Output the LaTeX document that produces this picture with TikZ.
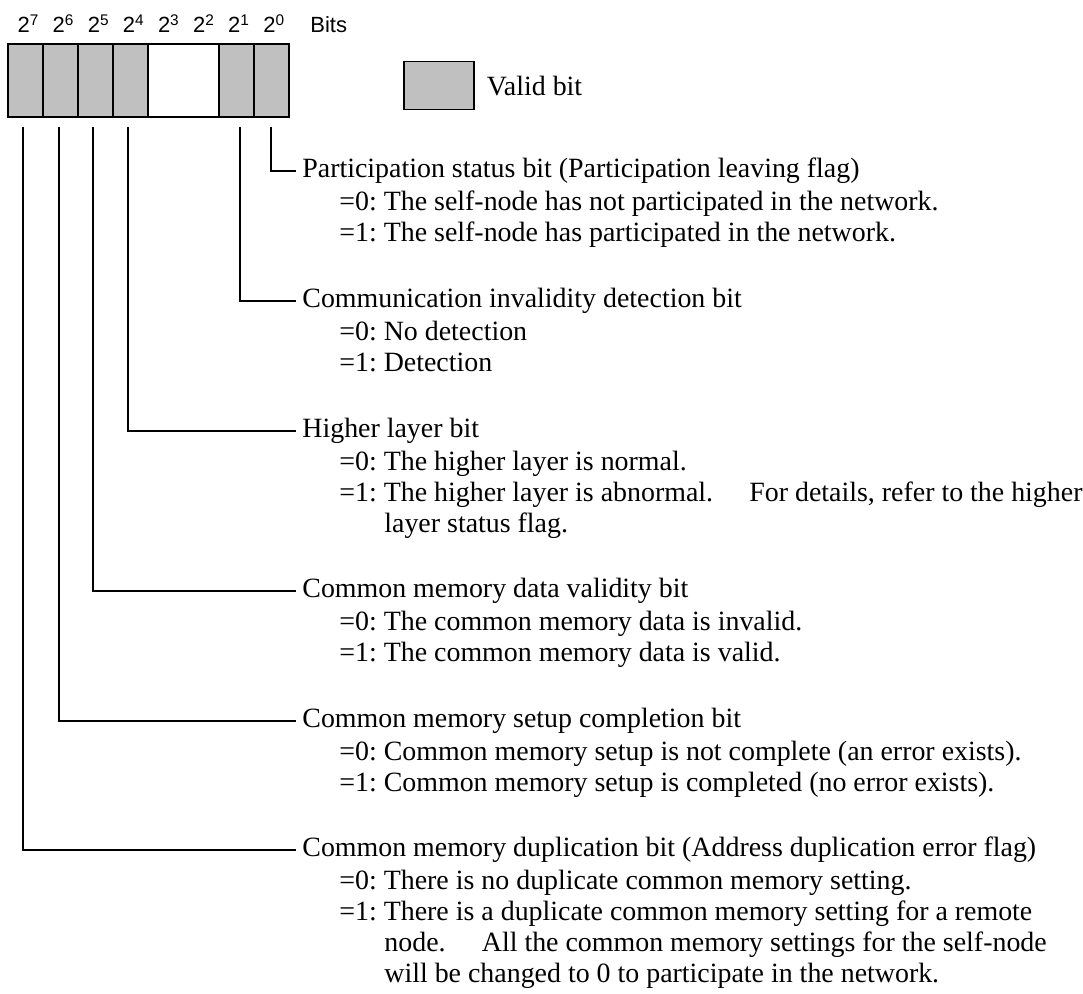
\documentclass[tikz,border=0pt]{standalone}
\usepackage{fontspec}
\setmainfont{Liberation Serif}
\setsansfont{Liberation Sans}
\usepackage{tikz}
\usetikzlibrary{positioning}
\definecolor{bitgray}{HTML}{C0C0C0}
\frenchspacing

\newcommand{\lines}[1]{\begin{tabular}[t]{@{}l@{}}#1\end{tabular}}

\tikzset{
  cell/.style={draw, line width=1pt, fill=bitgray, anchor=north west, inner sep=0pt,
               minimum width=17.55pt, minimum height=36.5pt},
  bitlabel/.style={font=\sffamily\fontsize{11}{13}\selectfont, inner sep=0pt, anchor=base},
  title/.style={font=\fontsize{13.95}{15.4}\selectfont, anchor=west, inner xsep=3pt, inner ysep=0pt},
  detail/.style={font=\fontsize{13.95}{15.4}\selectfont, anchor=base west, inner sep=0pt},
  lead/.style={line width=1pt},
}

\begin{document}
\begin{tikzpicture}[x=0.5pt, y=-0.5pt]
    \useasboundingbox (0,0) rectangle (1083,994);

    \foreach \b in {7,6,5,4,1,0}{
      \pgfmathsetmacro{\xl}{7+35.1*(7-\b)}
      \node[cell] (b\b) at (\xl,43) {};
    }
    \node[cell, fill=white, minimum width=35.1pt] (b32) at (147.4,43) {};

    \foreach \b in {7,6,5,4,3,2,1,0}{
      \pgfmathsetmacro{\xc}{7+35.1*(7-\b)+21.5}
      \node[bitlabel] (p\b) at (\xc,33) {2\textsuperscript{\b}};
    }
    \node[bitlabel, anchor=base west] (bits) at (310,33) {Bits};

    \node[cell, line width=0.75pt, minimum width=35pt, minimum height=24pt] (key) at (403,61) {};
    \node[detail, anchor=west] (keytext) at ([xshift=6pt]key.east) {Valid bit};

    \node[title] (t0) at (296,171) {Participation status bit (Participation leaving flag)};
    \node[detail] (d0) at ([xshift=21.5pt, yshift=-16.5pt]t0.base west)
      {\lines{=0: The self-node has not participated in the network.\\
       =1: The self-node has participated in the network.}};

    \node[title] (t1) at (296,301) {Communication invalidity detection bit};
    \node[detail] (d1) at ([xshift=21.5pt, yshift=-16.5pt]t1.base west)
      {\lines{=0: No detection\\
       =1: Detection}};

    \node[title] (t4) at (296,431) {Higher layer bit};
    \node[detail] (d4) at ([xshift=21.5pt, yshift=-16.5pt]t4.base west)
      {\lines{=0: The higher layer is normal.\\
       =1: The higher layer is abnormal.\hspace{1.05em} For details, refer to the higher\\
       \hspace*{22.5pt}layer status flag.}};

    \node[title] (t5) at (296,591) {Common memory data validity bit};
    \node[detail] (d5) at ([xshift=21.5pt, yshift=-16.5pt]t5.base west)
      {\lines{=0: The common memory data is invalid.\\
       =1: The common memory data is valid.}};

    \node[title] (t6) at (296,721) {Common memory setup completion bit};
    \node[detail] (d6) at ([xshift=21.5pt, yshift=-16.5pt]t6.base west)
      {\lines{=0: Common memory setup is not complete (an error exists).\\
       =1: Common memory setup is completed (no error exists).}};

    \node[title] (t7) at (296,850) {Common memory duplication bit (Address duplication error flag)};
    \node[detail] (d7) at ([xshift=21.5pt, yshift=-16.5pt]t7.base west)
      {\lines{=0: There is no duplicate common memory setting.\\
       =1: There is a duplicate common memory setting for a remote\\
       \hspace*{22.5pt}node.\hspace{1.05em} All the common memory settings for the self-node\\
       \hspace*{22.5pt}will be changed to 0 to participate in the network.}};

    \draw[lead] ([yshift=-4.5pt]b0.south) |- (t0.west);
    \draw[lead] ([xshift=2pt, yshift=-4.5pt]b1.south) |- (t1.west);
    \draw[lead] ([xshift=-1.5pt, yshift=-4.5pt]b4.south) |- (t4.west);
    \draw[lead] ([xshift=-1.5pt, yshift=-4.5pt]b5.south) |- (t5.west);
    \draw[lead] ([xshift=-1pt, yshift=-4.5pt]b6.south) |- (t6.west);
    \draw[lead] ([xshift=-1.5pt, yshift=-4.5pt]b7.south) |- (t7.west);
  \end{tikzpicture}
\end{document}
